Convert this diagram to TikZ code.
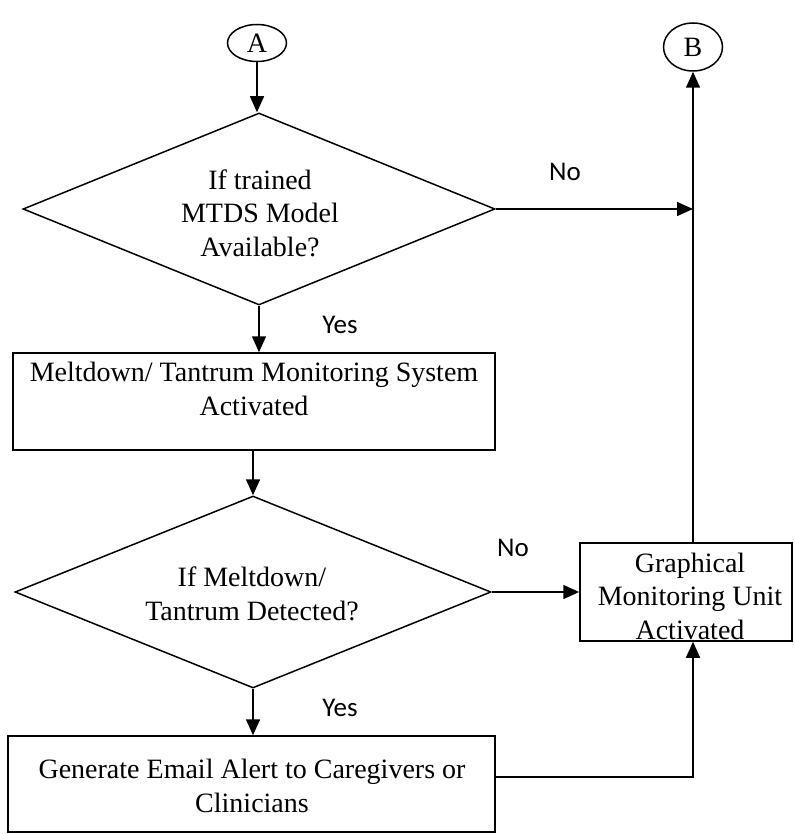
\documentclass[tikz,border=0pt]{standalone}
\usepackage{fontspec}
\setmainfont{Liberation Serif}
\newfontfamily\labelfont{Carlito}
\usetikzlibrary{shapes.geometric,arrows.meta}

\newcommand\bodyfont{\fontsize{28}{33.5}\selectfont}

\begin{document}
\begin{tikzpicture}[x=1pt,y=-1pt,
  flow/.style={line width=1.5pt, draw=black},
  arr/.style={flow, -{Triangle[length=16pt,width=14pt]}},
  box/.style={draw, rectangle, line width=1.5pt, inner sep=0pt},
  dec/.style={draw, diamond, line width=1.5pt, inner sep=0pt},
  conn/.style={draw, ellipse, line width=1.5pt, inner sep=0pt, font=\fontsize{28}{30}\selectfont},
  txt/.style={align=center, inner sep=0pt, font=\bodyfont},
  lbl/.style={inner sep=0pt, font=\labelfont\fontsize{27}{30}\selectfont}]
\useasboundingbox (0,0) rectangle (794,834);

% connectors
\node[conn, minimum width=59pt, minimum height=37pt] (A) at (257,43) {A};
\node[conn, minimum width=59pt, minimum height=48pt] (B) at (693,47) {B};

% decisions and process boxes
\node[dec, minimum width=472pt, minimum height=192pt] (d1) at (259,209) {};
\node[txt] (d1txt) at (260,213) {If trained\\MTDS Model\\Available?};
\node[box, minimum width=482pt, minimum height=97pt] (mon) at (254,401.5) {};
\node[txt] (montxt) at (254,389) {Meltdown/ Tantrum Monitoring System\\Activated};
\node[dec, minimum width=476pt, minimum height=192pt] (d2) at (253,592) {};
\node[txt] (d2txt) at (252,594) {If Meltdown/\\Tantrum Detected?};
\node[box, minimum width=212pt, minimum height=98pt] (g) at (686,592) {};
\node[txt] (gtxt) at (690,596) {Graphical\\Monitoring Unit\\Activated};
\node[box, minimum width=487pt, minimum height=96pt] (e) at (251.5,784) {};
\node[txt] (etxt) at (252,786) {Generate Email Alert to Caregivers or\\Clinicians};

% branch labels
\node[lbl] (no1) at (565,172) {No};
\node[lbl] (no2) at (513,548) {No};
\node[lbl] (yes1) at (340,325) {Yes};
\node[lbl] (yes2) at (340,708) {Yes};

% flow lines
\draw[arr] (A.south) -- (A.south |- d1.north);
\draw[arr] (d1.east) -- (d1.east -| B.south);
\draw[arr] (B.south |- g.north) -- (B.south);
\draw[arr] (d1.south) -- (d1.south |- mon.north);
\draw[arr] (d2.north |- mon.south) -- (d2.north);
\draw[arr] (d2.east) -- (g.west);
\draw[arr] (d2.south) -- (d2.south |- e.north);
\draw[arr] ([yshift=7pt]e.east) -- ([yshift=7pt]e.east -| B.south) -- (B.south |- g.south);
\end{tikzpicture}
\end{document}
